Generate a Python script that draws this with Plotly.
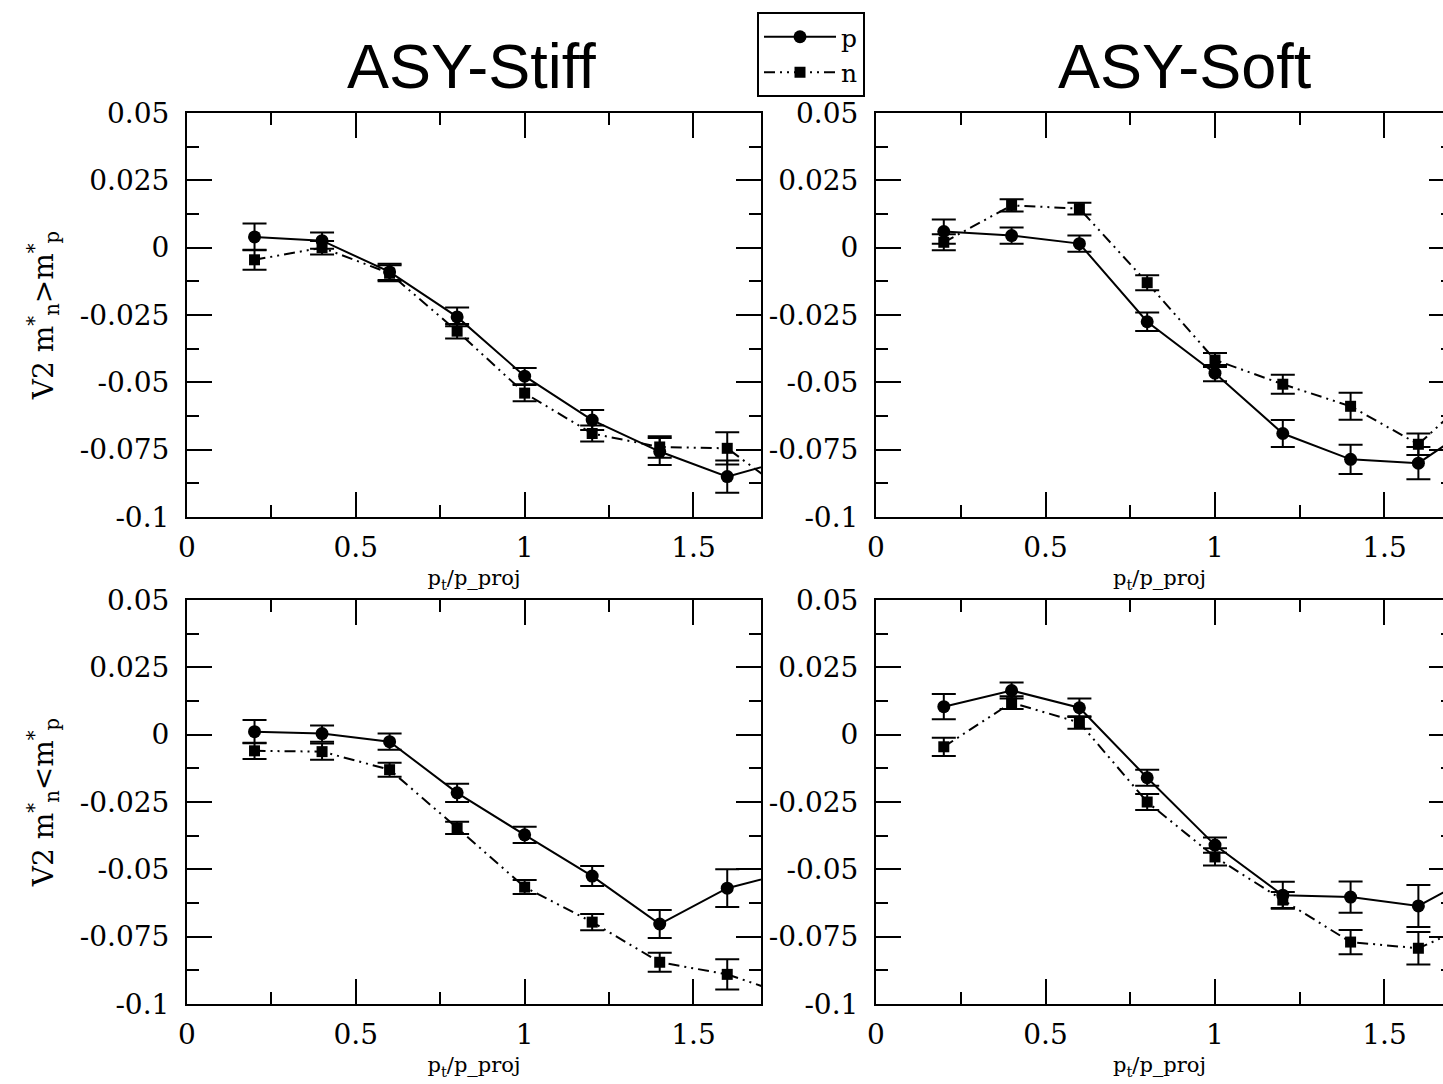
import plotly.graph_objects as go

# ---------------- data ----------------
pt = [0.2, 0.4, 0.6, 0.8, 1.0, 1.2, 1.4, 1.6, 1.8]

# ASY-Stiff, m*n > m*p
stiff_gt_p = [0.004, 0.0026, -0.009, -0.0257, -0.0477, -0.064, -0.0757, -0.085, -0.078]
stiff_gt_p_err = [0.005, 0.003, 0.003, 0.0035, 0.003, 0.0037, 0.005, 0.006, 0.006]
stiff_gt_n = [-0.0045, 0.0, -0.0095, -0.031, -0.054, -0.069, -0.074, -0.0745, -0.093]
stiff_gt_n_err = [0.0037, 0.0025, 0.003, 0.0027, 0.003, 0.003, 0.004, 0.006, 0.006]

# ASY-Soft, m*n > m*p
soft_gt_p = [0.006, 0.0045, 0.0015, -0.0275, -0.0466, -0.069, -0.0786, -0.080, -0.063]
soft_gt_p_err = [0.0045, 0.003, 0.003, 0.0034, 0.003, 0.005, 0.0054, 0.006, 0.006]
soft_gt_n = [0.002, 0.0157, 0.0145, -0.013, -0.0417, -0.0507, -0.0589, -0.073, -0.050]
soft_gt_n_err = [0.003, 0.0023, 0.0022, 0.0028, 0.0026, 0.0035, 0.005, 0.004, 0.005]

# ASY-Stiff, m*n < m*p
stiff_lt_p = [0.0011, 0.0004, -0.0026, -0.0216, -0.0372, -0.0525, -0.0703, -0.057, -0.0506]
stiff_lt_p_err = [0.0043, 0.003, 0.003, 0.0034, 0.003, 0.0037, 0.0052, 0.007, 0.006]
stiff_lt_n = [-0.006, -0.0063, -0.013, -0.0346, -0.0566, -0.0696, -0.0845, -0.089, -0.0975]
stiff_lt_n_err = [0.003, 0.003, 0.0026, 0.0023, 0.0026, 0.003, 0.0035, 0.0056, 0.006]

# ASY-Soft, m*n < m*p
soft_lt_p = [0.0104, 0.0164, 0.010, -0.016, -0.041, -0.0596, -0.0603, -0.0636, -0.050]
soft_lt_p_err = [0.0047, 0.003, 0.0034, 0.003, 0.0028, 0.005, 0.0058, 0.0078, 0.006]
soft_lt_n = [-0.0045, 0.0119, 0.0045, -0.025, -0.0454, -0.0614, -0.077, -0.0793, -0.068]
soft_lt_n_err = [0.0034, 0.0024, 0.0023, 0.003, 0.0032, 0.003, 0.0045, 0.006, 0.005]

x_tickvals = [0, 0.5, 1, 1.5]
x_ticktext = ["0", "0.5", "1", "1.5"]
y_tickvals = [0.05, 0.025, 0, -0.025, -0.05, -0.075, -0.1]
y_ticktext = ["0.05", "0.025", "0", "-0.025", "-0.05", "-0.075", "-0.1"]

panel_titles = ["ASY-Stiff", "ASY-Soft"]
x_title = "p<sub>t</sub>/p_proj"
y_title_gt = "V2 m<sup>*</sup><sub>n</sub>&gt;m<sup>*</sup><sub>p</sub>"
y_title_lt = "V2 m<sup>*</sup><sub>n</sub>&lt;m<sup>*</sup><sub>p</sub>"

# ---------------- figure ----------------
W, H = 1443, 1084
SERIF = "DejaVu Serif"
fig = go.Figure()

panels = [
    ("x", "y", stiff_gt_p, stiff_gt_p_err, stiff_gt_n, stiff_gt_n_err, True),
    ("x2", "y2", soft_gt_p, soft_gt_p_err, soft_gt_n, soft_gt_n_err, False),
    ("x3", "y3", stiff_lt_p, stiff_lt_p_err, stiff_lt_n, stiff_lt_n_err, False),
    ("x4", "y4", soft_lt_p, soft_lt_p_err, soft_lt_n, soft_lt_n_err, False),
]

for xa, ya, pv, pe, nv, ne, leg in panels:
    fig.add_trace(go.Scatter(
        x=pt, y=pv, xaxis=xa, yaxis=ya, name="p", showlegend=leg,
        mode="lines+markers",
        line=dict(color="black", width=2),
        marker=dict(symbol="circle", size=13, color="black"),
        error_y=dict(type="data", array=pe, color="black", thickness=2, width=12),
    ))
    fig.add_trace(go.Scatter(
        x=pt, y=nv, xaxis=xa, yaxis=ya, name="n", showlegend=leg,
        mode="lines+markers",
        line=dict(color="black", width=2, dash="11px,5px,2px,5px,2px,5px"),
        marker=dict(symbol="square", size=11, color="black"),
        error_y=dict(type="data", array=ne, color="black", thickness=2, width=12),
    ))

# invisible carriers for the right-hand (cropped) frame ticks of the right panels
for xa, ya, pv in [("x2", "y5", soft_gt_p), ("x4", "y6", soft_lt_p)]:
    fig.add_trace(go.Scatter(x=pt, y=pv, xaxis=xa, yaxis=ya, mode="none",
                             showlegend=False, hoverinfo="skip"))

def px_x(v):
    return v / W

def px_y(v):
    return 1 - v / H

left_dom = [px_x(187), px_x(761)]
right_dom = [px_x(876), 1.0]
top_dom = [px_y(517), px_y(113)]
bot_dom = [px_y(1004), px_y(600)]

tickfont = dict(family=SERIF, size=28, color="black")

def xaxis_cfg(dom, rng, anchor, mirror):
    return dict(
        domain=dom, range=rng, anchor=anchor,
        showline=True, linecolor="black", linewidth=2, mirror=mirror,
        ticks="inside", ticklen=25, tickwidth=2, tickcolor="black",
        tickmode="array", tickvals=x_tickvals, ticktext=x_ticktext,
        tickfont=tickfont, showgrid=False, zeroline=False,
        ticklabelstandoff=4,
        minor=dict(dtick=0.25, tick0=0, ticks="inside", ticklen=12,
                   tickwidth=2, tickcolor="black", showgrid=False),
        title=dict(text=x_title, font=dict(family=SERIF, size=21, color="black"), standoff=8),
    )

def yaxis_cfg(dom, anchor, mirror, title):
    d = dict(
        domain=dom, range=[-0.1, 0.05], anchor=anchor,
        showline=True, linecolor="black", linewidth=2, mirror=mirror,
        ticks="inside", ticklen=25, tickwidth=2, tickcolor="black",
        tickmode="array", tickvals=y_tickvals, ticktext=y_ticktext,
        tickfont=tickfont, showgrid=False, zeroline=False,
        ticklabelstandoff=10,
        minor=dict(dtick=0.0125, tick0=0, ticks="inside", ticklen=12,
                   tickwidth=2, tickcolor="black", showgrid=False),
    )
    if title:
        d["title"] = dict(text=title, font=dict(family=SERIF, size=28, color="black"), standoff=18)
    return d

def edge_yaxis_cfg(overlay):
    # frame of the right panels lies just past the picture edge; only the
    # tips of its inward ticks are visible
    return dict(
        overlaying=overlay, side="right", anchor="free", position=1.0,
        range=[-0.1, 0.05], showline=False, showgrid=False, zeroline=False,
        showticklabels=False, ticks="inside", ticklen=14, tickwidth=2,
        tickcolor="black", tickmode="array", tickvals=y_tickvals,
        minor=dict(dtick=0.0125, tick0=0, ticks="inside", ticklen=2,
                   tickwidth=2, tickcolor="black", showgrid=False),
    )

fig.update_layout(
    width=W, height=H,
    margin=dict(l=0, r=0, t=0, b=0, autoexpand=False),
    paper_bgcolor="white", plot_bgcolor="white",
    xaxis=xaxis_cfg(left_dom, [0, 1.7], "y", "ticks"),
    yaxis=yaxis_cfg(top_dom, "x", "ticks", y_title_gt),
    xaxis2=xaxis_cfg(right_dom, [0, 1.6726], "y2", "ticks"),
    yaxis2=yaxis_cfg(top_dom, "x2", False, None),
    xaxis3=xaxis_cfg(left_dom, [0, 1.7], "y3", "ticks"),
    yaxis3=yaxis_cfg(bot_dom, "x3", "ticks", y_title_lt),
    xaxis4=xaxis_cfg(right_dom, [0, 1.6726], "y4", "ticks"),
    yaxis4=yaxis_cfg(bot_dom, "x4", False, None),
    yaxis5=edge_yaxis_cfg("y2"),
    yaxis6=edge_yaxis_cfg("y4"),
    legend=dict(
        x=px_x(757), y=px_y(12), xanchor="left", yanchor="top",
        bgcolor="white", bordercolor="black", borderwidth=2,
        font=dict(family=SERIF, size=25, color="black"),
        itemwidth=72, tracegroupgap=0,
    ),
    showlegend=True,
)

for title, cx in zip(panel_titles, [471, 1185]):
    fig.add_annotation(text=title, xref="paper", yref="paper",
                       x=px_x(cx), y=px_y(66), xanchor="center", yanchor="middle",
                       showarrow=False,
                       font=dict(family="Liberation Sans", size=63, color="black"))

fig.write_html("out.html")
